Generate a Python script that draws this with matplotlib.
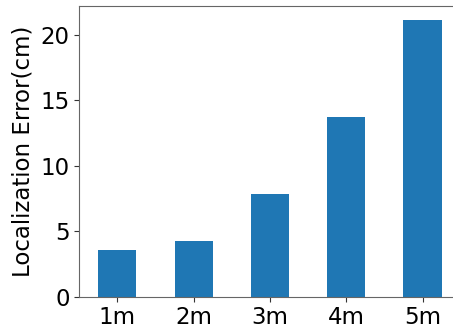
import matplotlib
matplotlib.use("Agg")
import matplotlib.pyplot as plt

distances = ["1m", "2m", "3m", "4m", "5m"]
errors_cm = [3.57, 4.26, 7.85, 13.74, 21.15]

fig = plt.figure(figsize=(4.53, 3.29), dpi=100)
ax = fig.add_axes([0.175, 0.098, 0.842, 0.884])

positions = list(range(len(distances)))
ax.bar(positions, errors_cm, width=0.5, color="#1f77b4")
ax.set_xlim(-0.5, len(distances) - 0.5)
ax.set_ylim(0, max(errors_cm) * 1.05)
ax.set_xticks(positions)
ax.set_xticklabels(distances)
ax.set_yticks([0, 5, 10, 15, 20])
ax.tick_params(labelsize=16.5, colors="#333333", labelcolor="black")
ax.set_ylabel("Localization Error(cm)", fontsize=16.5)

for spine in ax.spines.values():
    spine.set_color("#666666")
# the right edge of the frame falls outside the canvas
ax.spines["right"].set_visible(False)

fig.savefig("out.png", dpi=100)
